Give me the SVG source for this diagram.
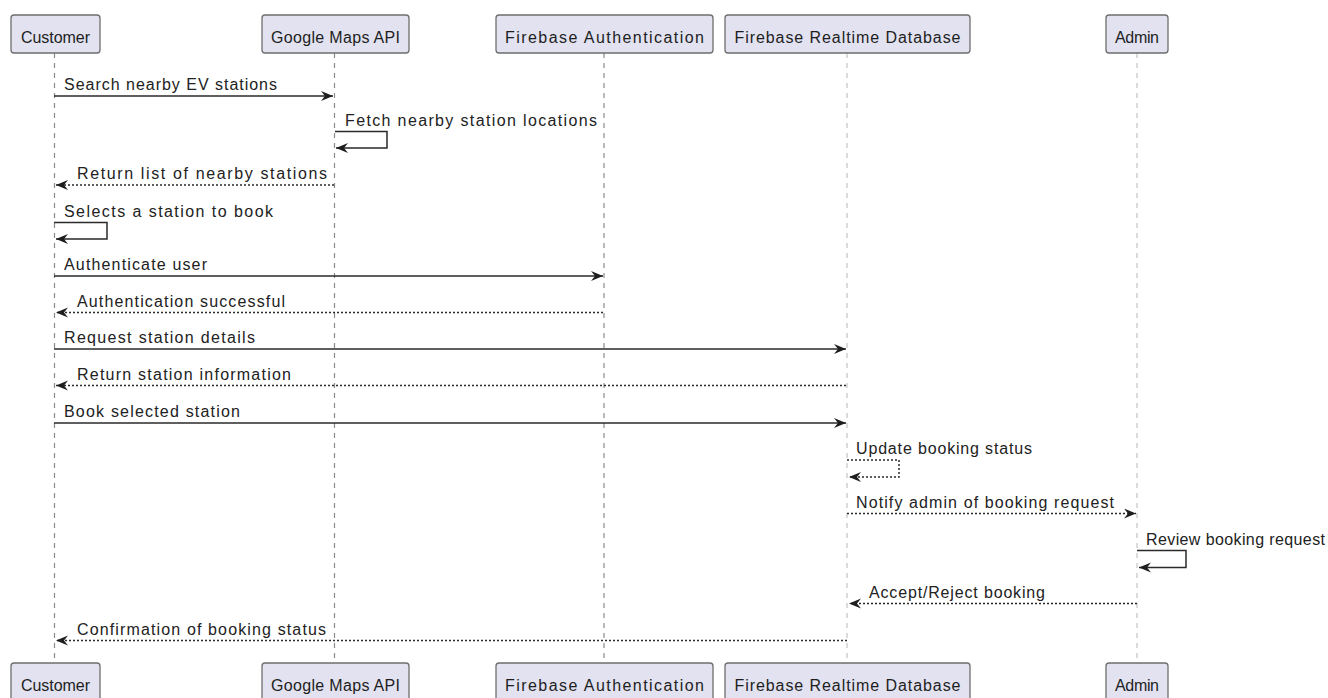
<svg xmlns="http://www.w3.org/2000/svg" width="1328" height="698" viewBox="0 0 1328 698">
<style>
.box{fill:#E2E2F0;stroke:#6e6e6e;stroke-width:1.3}
.pl{font-family:"Liberation Sans",Arial,sans-serif;font-size:16px;fill:#1e1e1e;text-anchor:middle}
.life{stroke:#8a8a8a;stroke-width:1.2;stroke-dasharray:5,5;fill:none}
.life2{stroke:#c4c4c4;stroke-width:1.2;stroke-dasharray:5,5;fill:none}
.msg{stroke:#2a2a2a;stroke-width:1.5;fill:none}
.dot{stroke:#2a2a2a;stroke-width:1.5;fill:none;stroke-dasharray:2,2}
.ml{font-family:"Liberation Sans",Arial,sans-serif;font-size:16px;fill:#222}
</style>
<defs>
<marker id="ah" markerUnits="userSpaceOnUse" markerWidth="14" markerHeight="12" refX="12" refY="5" orient="auto">
<path d="M0,0 L12,5 L0,10 L4,5 Z" fill="#1e1e1e"/>
</marker>
</defs>
<rect width="1328" height="698" fill="#ffffff"/>
<g id="lifelines">
<line class="life" x1="54.5" y1="53" x2="54.5" y2="663"/>
<line class="life" x1="334.5" y1="53" x2="334.5" y2="663"/>
<line class="life" x1="604" y1="53" x2="604" y2="663"/>
<line class="life2" x1="847" y1="53" x2="847" y2="663"/>
<line class="life2" x1="1137" y1="53" x2="1137" y2="663"/>
</g>
<g id="customer">
<rect class="box" x="11" y="15" width="89" height="38" rx="3"/>
<text class="pl" x="55.5" y="43" textLength="69">Customer</text>
<rect class="box" x="11" y="663" width="89" height="38" rx="3"/>
<text class="pl" x="55.5" y="691" textLength="69">Customer</text>
</g>
<g id="google">
<rect class="box" x="262" y="15" width="147" height="38" rx="3"/>
<text class="pl" x="335.5" y="43" textLength="129">Google Maps API</text>
<rect class="box" x="262" y="663" width="147" height="38" rx="3"/>
<text class="pl" x="335.5" y="691" textLength="129">Google Maps API</text>
</g>
<g id="fbauth">
<rect class="box" x="496" y="15" width="217" height="38" rx="3"/>
<text class="pl" x="604.5" y="43" textLength="199">Firebase Authentication</text>
<rect class="box" x="496" y="663" width="217" height="38" rx="3"/>
<text class="pl" x="604.5" y="691" textLength="199">Firebase Authentication</text>
</g>
<g id="fbdb">
<rect class="box" x="725" y="15" width="245" height="38" rx="3"/>
<text class="pl" x="847.5" y="43" textLength="226">Firebase Realtime Database</text>
<rect class="box" x="725" y="663" width="245" height="38" rx="3"/>
<text class="pl" x="847.5" y="691" textLength="226">Firebase Realtime Database</text>
</g>
<g id="admin">
<rect class="box" x="1106" y="15" width="62" height="38" rx="3"/>
<text class="pl" x="1137" y="43" textLength="44">Admin</text>
<rect class="box" x="1106" y="663" width="62" height="38" rx="3"/>
<text class="pl" x="1137" y="691" textLength="44">Admin</text>
</g>
<g id="connectors">
<path class="msg" d="M54,96 H333" marker-end="url(#ah)"/>
<path class="msg" d="M335,131.5 H387 V148 H336" marker-end="url(#ah)"/>
<path class="dot" d="M334,185 H56" marker-end="url(#ah)"/>
<path class="msg" d="M54,222.5 H107 V239 H56" marker-end="url(#ah)"/>
<path class="msg" d="M54,276 H603" marker-end="url(#ah)"/>
<path class="dot" d="M603,312.5 H56" marker-end="url(#ah)"/>
<path class="msg" d="M54,349 H846" marker-end="url(#ah)"/>
<path class="dot" d="M846,385.5 H56" marker-end="url(#ah)"/>
<path class="msg" d="M54,423 H846" marker-end="url(#ah)"/>
<path class="dot" d="M847,460 H899 V477 H849" marker-end="url(#ah)"/>
<path class="dot" d="M847,513.5 H1136" marker-end="url(#ah)"/>
<path class="msg" d="M1137,550.5 H1186 V567.5 H1139" marker-end="url(#ah)"/>
<path class="dot" d="M1137,603.5 H849" marker-end="url(#ah)"/>
<path class="dot" d="M847,640.5 H56" marker-end="url(#ah)"/>
</g>
<g id="labels">
<text class="ml" x="64" y="90" textLength="213">Search nearby EV stations</text>
<text class="ml" x="345" y="126" textLength="252">Fetch nearby station locations</text>
<text class="ml" x="77" y="179" textLength="250">Return list of nearby stations</text>
<text class="ml" x="64" y="216.5" textLength="209">Selects a station to book</text>
<text class="ml" x="64" y="270" textLength="143">Authenticate user</text>
<text class="ml" x="77" y="306.5" textLength="208">Authentication successful</text>
<text class="ml" x="64" y="343" textLength="191">Request station details</text>
<text class="ml" x="77" y="379.5" textLength="214">Return station information</text>
<text class="ml" x="64" y="417" textLength="176">Book selected station</text>
<text class="ml" x="856" y="454" textLength="176">Update booking status</text>
<text class="ml" x="856" y="507.5" textLength="258">Notify admin of booking request</text>
<text class="ml" x="1146" y="544.5" textLength="179">Review booking request</text>
<text class="ml" x="869" y="597.5" textLength="176">Accept/Reject booking</text>
<text class="ml" x="77" y="634.5" textLength="249">Confirmation of booking status</text>
</g>
</svg>
